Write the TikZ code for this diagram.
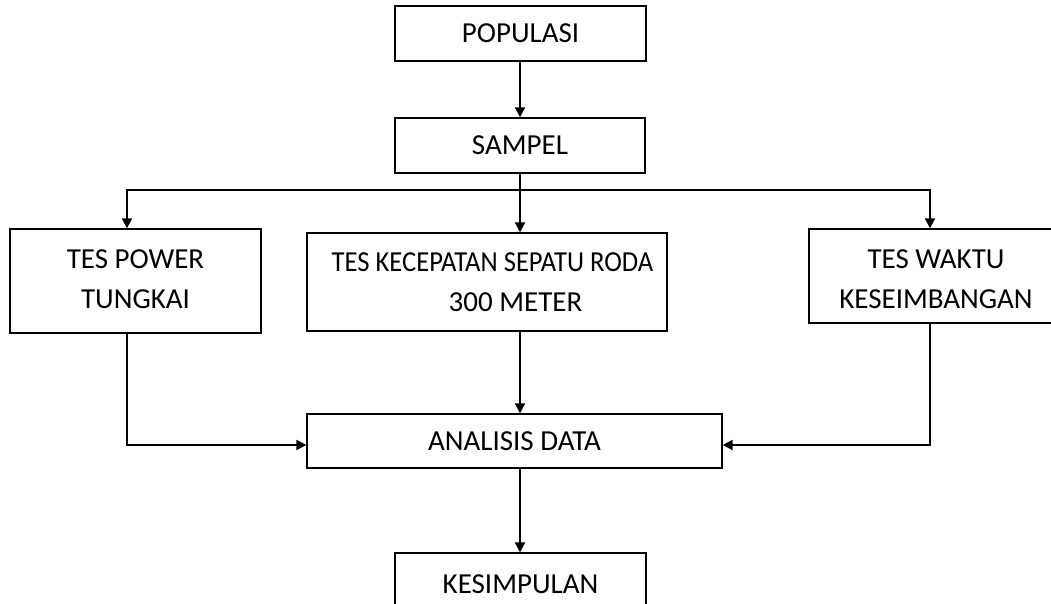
\documentclass[tikz,border=0pt]{standalone}
\usepackage{fontspec}
\usepackage{graphicx}
\setmainfont{Carlito}
\usetikzlibrary{arrows.meta}
\begin{document}
\begin{tikzpicture}[x=1pt,y=-1pt,
  box/.style={draw, line width=1.4pt, rectangle, inner sep=0pt, align=center,
    font=\fontsize{29}{40}\selectfont},
  txt/.style={inner sep=0pt, align=center, font=\fontsize{29}{40}\selectfont},
  conn/.style={line width=2pt},
  arr/.style={line width=2pt, -{Triangle[length=10pt,width=10pt]}}]
\clip (0,0) rectangle (1051,604);
\fill[white] (0,0) rectangle (1051,604);
\node[box, minimum width=251pt, minimum height=55pt] (pop) at (520.5,33.5) {POPULASI};
\node[box, minimum width=250pt, minimum height=55pt] (samp) at (520,145.5) {SAMPEL};
\node[box, minimum width=251pt, minimum height=104pt] (pow) at (135.5,281) {};
\node[txt] (powt) at (135.5,279) {TES POWER\\TUNGKAI};
\node[box, minimum width=360pt, minimum height=98pt] (mid) at (487,282) {};
\node[txt] (midt) at (487,282.5) {\hspace*{11pt}\scalebox{0.917}[1]{TES KECEPATAN SEPATU RODA}\\\hspace*{57pt}300 METER};
\node[box, minimum width=254pt, minimum height=94pt] (wak) at (936,276) {};
\node[txt] (wakt) at (936,279) {TES WAKTU\\KESEIMBANGAN};
\node[box, minimum width=415pt, minimum height=54pt] (ana) at (514.5,441) {ANALISIS DATA};
\node[box, minimum width=251pt, minimum height=62pt] (kes) at (520.5,584) {KESIMPULAN};
\coordinate (split) at (520,190);
\coordinate (lx) at (127,190);
\coordinate (rx) at (930,190);
\coordinate (ly) at (127,445);
\coordinate (ry) at (930,445);
\draw[arr] (pop.south -| split) -- (samp.north -| split);
\draw[conn] (samp.south -| split) -- (split);
\draw[arr] (split) -- (lx) -- (lx |- pow.north);
\draw[arr] (split) -- (split |- mid.north);
\draw[arr] (split) -- (rx) -- (rx |- wak.north);
\draw[arr] (pow.south -| lx) -- (ly) -- (ly -| ana.west);
\draw[arr] (mid.south -| split) -- (split |- ana.north);
\draw[arr] (wak.south -| rx) -- (ry) -- (ry -| ana.east);
\draw[arr] (ana.south -| split) -- (split |- kes.north);
\end{tikzpicture}
\end{document}
